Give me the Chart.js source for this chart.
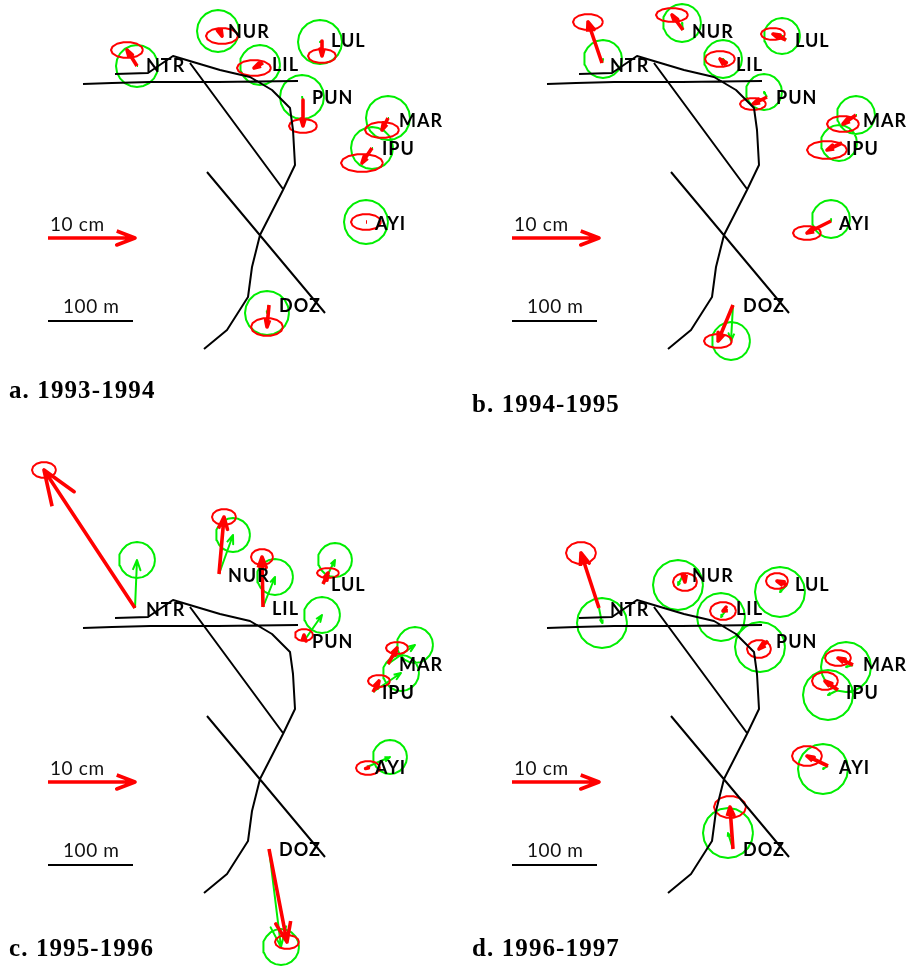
<!DOCTYPE html>
<html><head><meta charset="utf-8">
<style>html,body{margin:0;padding:0;background:#fff}canvas{display:block}</style>
<script src="https://cdn.jsdelivr.net/npm/chart.js@4"></script>
</head><body><canvas id="c" width="910" height="969"></canvas>
<script>
// Panel layout values (image pixel units).
const panelTitles = ['a. 1993-1994','b. 1994-1995','c. 1995-1996','d. 1996-1997'];
const titlePos = [[9,392],[472,406],[9,950],[472,950]];
const panelOffsets = [[0,0],[464,0],[0,544],[464,544]];
const stationNames = ['NTR','NUR','LUL','LIL','PUN','MAR','IPU','AYI','DOZ'];
const stationLabelX = [146,228,331,272,312,399,382,375,279];
const stationLabelY = [66,32,41,65,98,121,149,224,306];

// Rows per station: tailX, tailY, redTipX, redTipY, greenTipX, greenTipY, ellipseRx, ellipseRy, circleR
const panelA = [
 [137,66,127,50,137,66,16,8,21],[219,29,222,36,218,31,16,8,21],[322,41,322,56,320,42,14,7,22],
 [263,63,254,68,260,65,17,8,20],[303,100,303,126,302,97,14,7,22],[388,118,382,130,388,118,17,8,22],
 [372,148,362,163,372,148,21,9,21],[366,222,366,222,366,222,15,8,22],[269,305,267,327,267,313,16,9,22]];
const panelB = [
 [602,63,588,22,603,59,15,8,19],[683,30,672,15,682,23,16,7,19],[786,40,773,34,782,36,12,6,18],
 [726,65,720,59,723,59,15,8,19],[767,97,753,104,764,92,13,6,18],[856,115,843,124,856,115,16,8,19],
 [842,143,827,150,839,143,20,9,18],[831,221,807,233,831,219,14,7,19],[733,305,718,341,731,341,14,7,19]];
const panelC = [
 [135,608,44,470,137,560,12,8,18],[219,574,224,517,233,535,12,8,17],[263,607,262,557,275,577,11,8,18],
 [323,584,328,573,335,560,11,5,17],[304,641,304,635,322,615,9,6,18],[388,664,397,648,415,645,11,6,18],
 [373,692,379,681,401,673,11,6,18],[367,767,368,768,390,757,12,7,17],[269,849,287,942,281,947,12,7,18]];
const panelD = [
 [599,608,581,553,602,623,15,11,25],[684,573,685,582,678,585,12,9,25],[787,585,777,581,780,592,11,8,25],
 [727,609,723,611,721,617,13,9,24],[768,641,759,649,760,647,12,9,25],[853,665,838,658,846,667,13,8,25],
 [838,690,825,681,828,695,13,9,25],[828,766,807,756,823,769,15,10,25],[733,849,730,807,728,833,16,11,25]];
const panels = [panelA,panelB,panelC,panelD];

// Fault traces (panel-a pixel units)
const faultHorizontal = [[83,84],[112,83],[150,82],[218,82],[298,81]];
const faultRidge = [[115,74],[148,73],[173,56],[220,70],[250,77],[272,90],[290,108],[293,130],[295,165],[283,190],[260,235],[252,267],[248,297],[227,330],[204,349]];
const faultBranch = [[190,63],[283,189]];
const faultCross = [[207,172],[325,313]];
const scaleArrow = [[48,238],[135,238]];
const scaleBar = [[48,321],[133,321]];
const scaleArrowLabel = ['10 cm',50,225];
const scaleBarLabel = ['100 m',63,307];

const GAP = {x:null,y:null};
function polyline(pts,dx,dy){return pts.map(p=>({x:p[0]+dx,y:p[1]+dy})).concat([GAP]);}
function arrow(x0,y0,x1,y1,minA,minW){
  const vx=x1-x0,vy=y1-y0,len=Math.hypot(vx,vy);
  if(len<1) return [{x:x0,y:y0},{x:x1+1,y:y1},GAP];
  const ux=vx/len,uy=vy/len;
  const a=Math.min(Math.max(.21*len,minA),len),w=Math.max(.08*len,minW);
  return [{x:x0,y:y0},{x:x1,y:y1},
    {x:x1-a*ux-w*uy,y:y1-a*uy+w*ux},{x:x1,y:y1},
    {x:x1-a*ux+w*uy,y:y1-a*uy-w*ux},GAP];
}
function ring(cx,cy,rx,ry,n){
  const out=[];
  for(let i=0;i<=n;i++){const t=2*Math.PI*i/n;out.push({x:cx+rx*Math.cos(t),y:cy+ry*Math.sin(t)});}
  out.push(GAP);return out;
}
const black=[],redArrows=[],redRings=[],greenArrows=[],greenRings=[];
panelOffsets.forEach(([dx,dy],i)=>{
  [faultHorizontal,faultRidge,faultBranch,faultCross,scaleBar].forEach(f=>black.push(...polyline(f,dx,dy)));
  redArrows.push(...arrow(scaleArrow[0][0]+dx,scaleArrow[0][1]+dy,scaleArrow[1][0]+dx,scaleArrow[1][1]+dy,0,0));
  panels[i].forEach(r=>{
    redArrows.push(...arrow(r[0],r[1],r[2],r[3],7,2));
    redRings.push(...ring(r[2],r[3],r[6],r[7],14));
    greenArrows.push(...arrow(r[0],r[1],r[4],r[5],0,0));
    greenRings.push(...ring(r[4],r[5],r[8],r[8],20));
  });
});
const lineSet=(label,data,color,width)=>({label,data,type:'scatter',showLine:true,borderColor:color,backgroundColor:color,
  borderWidth:width,pointRadius:0,pointHoverRadius:0,tension:0,spanGaps:false,clip:false,borderCapStyle:'butt',borderJoinStyle:'round'});

const textPlugin={id:'text',afterDatasetsDraw(chart){
  const {ctx,scales:{x,y}}=chart;
  ctx.save();ctx.textBaseline='middle';ctx.textAlign='left';
  panelOffsets.forEach(([dx,dy],i)=>{
    ctx.fillStyle='#000';
    ctx.font='700 18px Lato, sans-serif';
    ctx.letterSpacing='1px';
    stationNames.forEach((n,j)=>ctx.fillText(n,x.getPixelForValue(stationLabelX[j]+dx),y.getPixelForValue(stationLabelY[j]+dy)));
    ctx.fillStyle='#111';
    ctx.font='400 19px Lato, sans-serif';
    ctx.letterSpacing='0.6px';
    [scaleArrowLabel,scaleBarLabel].forEach(l=>ctx.fillText(l[0],x.getPixelForValue(l[1]+dx),y.getPixelForValue(l[2]+dy)));
    ctx.fillStyle='#000';
    ctx.font='bold 25px "Liberation Serif", serif';
    ctx.letterSpacing='1.1px';
    ctx.fillText(panelTitles[i],x.getPixelForValue(titlePos[i][0]),y.getPixelForValue(titlePos[i][1]));
  });
  ctx.restore();
}};

new Chart(document.getElementById('c'),{
  type:'scatter',
  data:{datasets:[
    lineSet('Faults and scale bars',black,'#000',2),
    lineSet('Red error ellipses',redRings,'#f00',2),
    lineSet('Red vectors',redArrows,'#f00',3.6),
    lineSet('Green error circles',greenRings,'#00ee00',2),
    lineSet('Green vectors',greenArrows,'#00ee00',2)
  ]},
  options:{responsive:false,animation:false,devicePixelRatio:1,
    layout:{padding:0},
    plugins:{legend:{display:false},title:{display:false},tooltip:{enabled:false}},
    scales:{
      x:{type:'linear',min:0,max:910,display:false},
      y:{type:'linear',min:0,max:969,reverse:true,display:false}
    }},
  plugins:[textPlugin]
});
</script></body></html>
